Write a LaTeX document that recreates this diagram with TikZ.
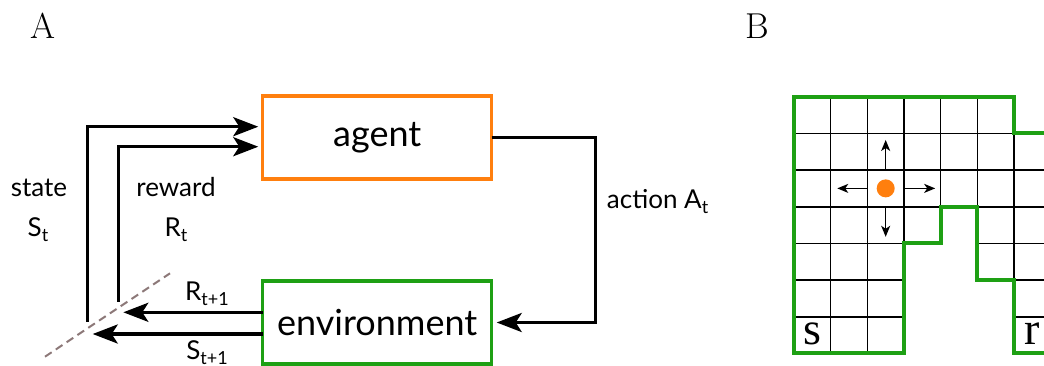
\documentclass[tikz,border=0pt]{standalone}
\usepackage{fontspec}
\newfontfamily\lato{Lato}
\newfontfamily\libserif{Liberation Serif}
\usetikzlibrary{arrows.meta}
\definecolor{aorange}{RGB}{255,127,14}
\definecolor{egreen}{RGB}{30,160,20}
\definecolor{dashc}{RGB}{140,120,120}
\newcommand{\mysub}[1]{\raisebox{-0.2em}{\fontsize{18}{18}\selectfont #1}}
\begin{document}
\begin{tikzpicture}[x=1pt,y=-1pt,
  box/.style={draw, line width=3.5pt, minimum width=229pt, minimum height=83pt, inner sep=0pt, outer sep=0pt, font=\lato\fontsize{36}{36}\selectfont},
  flow/.style={line width=3.5pt, -{Stealth[length=25pt,width=19pt,inset=6pt]}},
  lbl/.style={font=\lato\fontsize{26}{26}\selectfont, inner sep=0pt, anchor=base},
  gridline/.style={line width=1.6pt},
  wall/.style={draw=egreen, line width=4pt, line join=miter},
  move/.style={line width=1.3pt, -{Stealth[length=11pt,width=9pt,inset=3pt]}},
  cellletter/.style={font=\libserif\fontsize{46}{46}\selectfont, inner sep=0pt, anchor=base},
  panel/.style={font=\fontsize{36}{36}\selectfont, inner sep=0pt, anchor=base}]
\useasboundingbox (0,0) rectangle (1044,365);
% panel letters
\node[panel] (pA) at (43,38) {A};
\node[panel] (pB) at (757,38) {B};
% panel A
\node[box, draw=aorange] (agent) at (377.2,137.3) {agent};
\node[box, draw=egreen] (env) at (377.2,322.5) {environment};
\draw[flow, shorten >=5pt] (agent.east) -- ++(104,0) |- (env.east);
\coordinate (stateEnd) at (87.3,321.7);
\coordinate (rewardEnd) at (118.3,301.7);
\draw[flow, shorten >=4.4pt] (stateEnd) |- ([yshift=10.6pt]agent.west);
\draw[flow, shorten >=4.4pt] (rewardEnd) |- ([yshift=-9.4pt]agent.west);
\coordinate (rNext) at (123.3,312.3);
\coordinate (sNext) at (92.7,334);
\draw[flow] ([yshift=10.2pt]env.west) -- (rNext);
\draw[flow] ([yshift=-11.5pt]env.west) -- (sNext);
\coordinate (cutA) at (45,356.7);
\coordinate (cutB) at (170,273.3);
\draw[dashc, line width=2pt, dash pattern=on 8pt off 5pt] (cutA) -- (cutB);
\node[lbl] (stateLbl) at (39,196.7) {state};
\node[lbl] (stLbl) at (38,236.7) {S\mysub{t}};
\node[lbl] (rewLbl) at (176,196.7) {reward};
\node[lbl] (rtLbl) at (176,236.7) {R\mysub{t}};
\node[lbl] (rnLbl) at (207,300.7) {R\mysub{t+1}};
\node[lbl] (snLbl) at (207,359) {S\mysub{t+1}};
\node[lbl, anchor=base west] (actLbl) at (606.7,208.3) {action A\mysub{t}};
% panel B
\begin{scope}
\clip (0,0) rectangle (1044,365);
\begin{scope}[shift={(794,96.7)}, x=36.67pt, y=-36.67pt]
  \begin{scope}
    \clip (0,0) -- (6,0) -- (6,1) -- (8,1) -- (8,7) -- (6,7) -- (6,5) -- (5,5) -- (5,3) -- (4,3) -- (4,4) -- (3,4) -- (3,7) -- (0,7) -- cycle;
    \foreach \i in {0,...,8} \draw[gridline] (\i,0) -- (\i,7);
    \foreach \j in {0,...,7} \draw[gridline] (0,\j) -- (8,\j);
  \end{scope}
  \draw[wall] (0,0) -- (6,0) -- (6,1) -- (8,1) -- (8,7) -- (6,7) -- (6,5) -- (5,5) -- (5,3) -- (4,3) -- (4,4) -- (3,4) -- (3,7) -- (0,7) -- cycle;
  \node[circle, fill=aorange, minimum size=18pt, inner sep=0pt] (dot) at (2.5,2.5) {};
  \coordinate (upS) at (2.5,2);    \coordinate (upE) at (2.5,1.18);
  \coordinate (dnS) at (2.5,3);    \coordinate (dnE) at (2.5,3.82);
  \coordinate (lfS) at (2,2.5);    \coordinate (lfE) at (1.18,2.5);
  \coordinate (rtS) at (3,2.5);    \coordinate (rtE) at (3.85,2.5);
  \draw[move] (upS) -- (upE);
  \draw[move] (dnS) -- (dnE);
  \draw[move] (lfS) -- (lfE);
  \draw[move] (rtS) -- (rtE);
  \node[cellletter] (sCell) at (0.5,6.744) {s};
  \node[cellletter] (rCell) at (6.5,6.744) {r};
\end{scope}
\end{scope}
\end{tikzpicture}
\end{document}
